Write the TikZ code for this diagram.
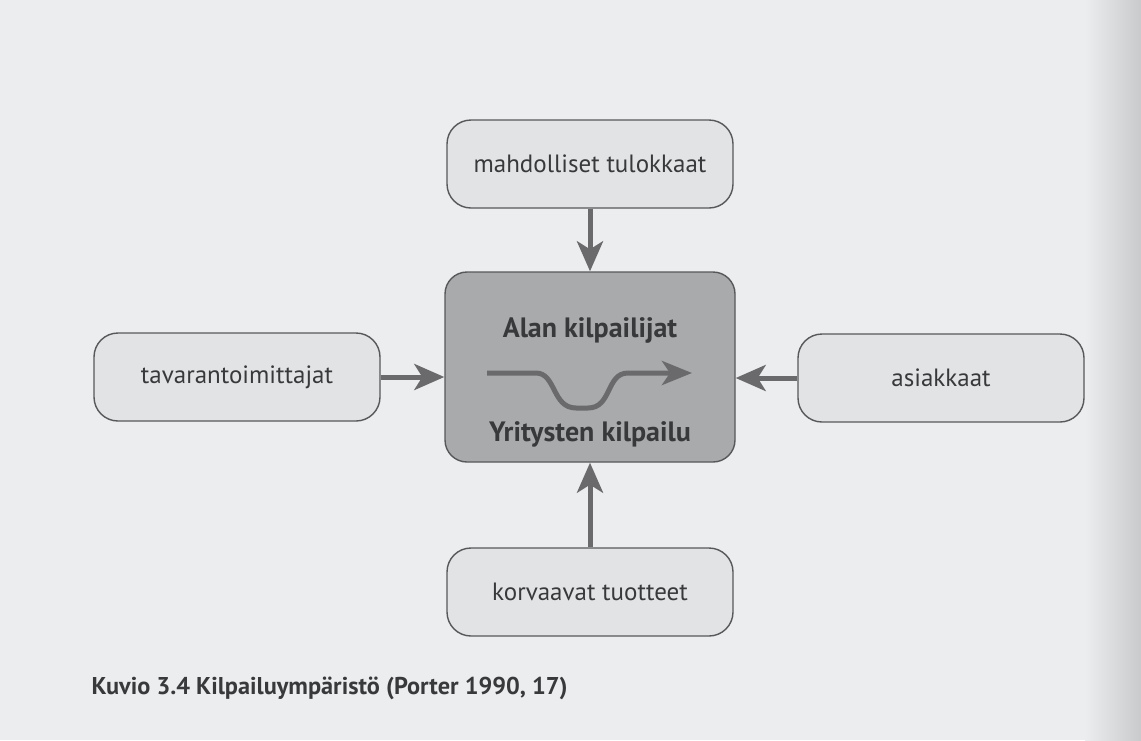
\documentclass[tikz,border=0pt]{standalone}
\usepackage{fontspec}
\setmainfont{PT Sans}
\usetikzlibrary{arrows.meta}

\definecolor{paper}{HTML}{ECEDEF}
\definecolor{paperedge}{HTML}{C9CACC}
\definecolor{boxfill}{HTML}{E2E3E5}
\definecolor{boxline}{HTML}{57585A}
\definecolor{corefill}{HTML}{A9AAAC}
\definecolor{pushgray}{HTML}{6A6A6C}
\definecolor{inktext}{HTML}{38393B}

\begin{document}
\begin{tikzpicture}[x=1pt,y=-1pt,
    force/.style={draw=boxline,line width=1.4pt,rounded corners=24pt,
      fill=boxfill,minimum width=286pt,minimum height=88pt,
      font=\fontsize{25}{29}\selectfont,text=inktext},
    corebox/.style={draw=boxline,line width=1.4pt,rounded corners=22pt,
      fill=corefill,minimum width=290pt,minimum height=190pt},
    corelabel/.style={font=\bfseries\fontsize{28}{32}\selectfont,text=inktext},
    push/.style={draw=pushgray,line width=5pt,
      -{Stealth[length=30pt,width=26pt,inset=8pt]}}
  ]
  % paper
  \fill[paper] (0,0) rectangle (1141,740);
  \shade[left color=paper,right color=paperedge] (1085,0) rectangle (1141,740);
  \useasboundingbox (0,0) rectangle (1141,740);

  \node[corebox] (rivals) at (590,367) {};
  \node[corelabel] (alan) at (590,330) {Alan kilpailijat};
  \node[corelabel] (yritys) at (590,434) {Yritysten kilpailu};

  \node[force] (entrants) at (590,164) {mahdolliset tulokkaat};
  \node[force] (suppliers) at (237,377) {tavarantoimittajat};
  \node[force] (buyers) at (941,378) {asiakkaat};
  \node[force] (substitutes) at (590,592) {korvaavat tuotteet};

  \draw[push] (entrants) -- (rivals);
  \draw[push] (suppliers) -- (suppliers -| rivals.west);
  \draw[push] (buyers) -- (buyers -| rivals.east);
  \draw[push] (substitutes) -- (rivals);

  % the dip in the middle
  \coordinate (wavein) at (487,373);
  \coordinate (waveout) at (692,373);
  \draw[push,-{Stealth[length=30pt,width=24pt,inset=8pt]}]
    (wavein) -- (536,373)
    .. controls (556,373) and (552,408) .. (576,408)
    -- (588,408)
    .. controls (612,408) and (606,373) .. (628,373)
    -- (waveout);

  \node[anchor=west,font=\bfseries\fontsize{24.3}{28}\selectfont,text=inktext]
    (caption) at (88,688) {Kuvio 3.4 Kilpailuympäristö (Porter 1990, 17)};
\end{tikzpicture}
\end{document}
